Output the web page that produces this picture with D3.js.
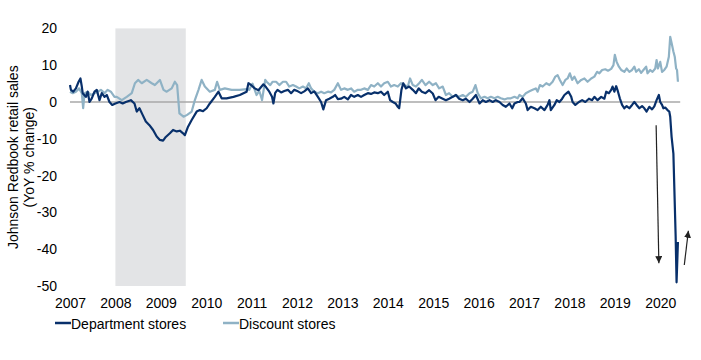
<!DOCTYPE html>
<html><head><meta charset="utf-8">
<script src="https://cdn.jsdelivr.net/npm/d3@7"></script>
<style>
body{margin:0;background:#fff}
svg{display:block}
text{font-family:"Liberation Sans",Arial,sans-serif;fill:#000}
</style>
</head><body>
<svg id="chart" width="701" height="360"></svg>
<script>
// ---------- data ----------
const yearTicks = [2007,2008,2009,2010,2011,2012,2013,2014,2015,2016,2017,2018,2019,2020];
const valueTicks = [20,10,0,-10,-20,-30,-40,-50];
const recessionStart = 2008.0;
const recessionEnd = 2009.55;
const seriesNames = ["Department stores","Discount stores"];
const yTitle = ["Johnson Redbook retail sales","(YoY % change)"];

const deptDates = [2007.00,2007.02,2007.07,2007.13,2007.19,2007.23,2007.26,2007.28,2007.35,2007.39,2007.43,2007.48,2007.54,2007.59,2007.65,2007.70,2007.76,2007.81,2007.87,2007.93,
2008.00,2008.09,2008.16,2008.23,2008.34,2008.42,2008.47,2008.53,2008.60,2008.67,2008.75,2008.83,2008.91,2008.98,
2009.05,2009.11,2009.20,2009.27,2009.35,2009.42,2009.49,2009.53,2009.60,2009.68,2009.79,2009.86,2009.93,
2010.01,2010.08,2010.19,2010.27,2010.34,2010.45,2010.60,2010.74,2010.89,2010.93,
2011.00,2011.07,2011.15,2011.26,2011.32,2011.39,2011.45,2011.48,2011.52,2011.57,2011.65,2011.72,2011.80,2011.87,2011.94,
2012.02,2012.09,2012.16,2012.24,2012.31,2012.38,2012.46,2012.53,2012.58,2012.64,2012.71,2012.79,2012.84,2012.90,2012.97,
2013.04,2013.12,2013.19,2013.26,2013.34,2013.41,2013.48,2013.56,2013.63,2013.70,2013.78,2013.85,2013.92,
2014.00,2014.05,2014.11,2014.17,2014.22,2014.25,2014.30,2014.34,2014.40,2014.47,2014.55,2014.62,2014.68,2014.75,2014.83,2014.91,2014.99,
2015.05,2015.12,2015.21,2015.28,2015.35,2015.43,2015.50,2015.57,2015.65,2015.72,2015.80,2015.87,2015.94,
2016.02,2016.09,2016.16,2016.24,2016.31,2016.38,2016.46,2016.53,2016.60,2016.68,2016.74,2016.79,2016.86,2016.90,2016.97,
2017.04,2017.08,2017.15,2017.23,2017.30,2017.37,2017.45,2017.52,2017.56,2017.59,2017.67,2017.72,2017.78,2017.84,2017.89,2017.94,2017.98,
2018.04,2018.07,2018.13,2018.21,2018.28,2018.35,2018.43,2018.50,2018.55,2018.62,2018.70,2018.77,2018.81,2018.87,2018.92,2018.95,2018.99,
2019.03,2019.07,2019.11,2019.16,2019.21,2019.26,2019.32,2019.38,2019.43,2019.48,2019.54,2019.60,2019.65,2019.70,2019.76,2019.82,2019.87,2019.92,2019.97,
2020.00,2020.04,2020.07,2020.11,2020.16,2020.20,2020.22,2020.25,2020.29,2020.31,2020.34,2020.36,2020.39];
const deptValues = [4.6,3.3,2.8,3.7,5.5,6.4,4.2,2.4,1.4,2.8,0,1.0,2.8,3.3,0.5,2.4,1.4,1.9,0,-0.8,
-0.4,0,-0.4,0,0.5,-0.4,-2.6,-1.7,-3.5,-5.3,-6.3,-7.6,-9.4,-10.3,
-10.5,-9.5,-8.5,-7.6,-8.0,-7.8,-8.5,-9.0,-6.7,-4.9,-2.6,-2.2,-2.5,
-1.7,-0.4,1.4,2.8,1.0,1.0,1.4,1.9,2.8,5.1,
4.5,3.7,3.2,4.8,4.0,2.8,1.4,-0.4,2.5,3.3,2.6,3.0,3.3,2.4,3.3,
2.9,2.4,2.9,3.7,2.4,2.9,1.4,0,-2.0,0.5,0.9,1.4,1.9,0.8,0.9,
1.4,0.7,1.9,1.4,1.9,1.4,1.9,2.4,2.2,2.6,2.4,2.8,1.9,
2.8,0.5,0,-0.4,-1.3,-1.7,3.3,5.1,3.7,4.2,3.3,2.4,3.7,2.8,2.4,3.2,2.3,
0.5,1.4,0.9,0.5,0.9,1.4,1.9,0.9,0.5,0.9,0,0.9,1.9,
-0.4,0.5,0,0.5,0,0.5,0,-0.8,-1.3,-0.4,-1.7,-0.4,0,0,1.0,
-0.4,-2.2,-1.3,-1.7,-2.2,-1.3,-2.2,-0.8,0.5,-2.2,-0.8,0.5,0,0.9,1.9,2.4,2.8,
1.4,0,-0.8,0,0.5,0,0.9,0.5,1.4,0.5,1.4,0.9,2.8,2.4,3.3,4.2,2.8,
4.3,2.8,1.0,-0.8,-1.7,-1.1,-1.7,-0.8,0,-0.8,-1.7,-1.1,-1.7,-2.6,-1.3,-2.0,-1.2,0.5,1.9,
0,-0.8,-1.7,-1.5,-2.2,-2.6,-4.0,-9.4,-14,-23,-36.6,-49,-38];

const discDates = [2007.00,2007.06,2007.13,2007.20,2007.26,2007.29,2007.32,2007.39,2007.46,2007.54,2007.61,2007.68,2007.76,2007.83,2007.90,2007.98,
2008.03,2008.14,2008.25,2008.36,2008.43,2008.50,2008.58,2008.69,2008.80,2008.87,2008.98,
2009.06,2009.13,2009.24,2009.31,2009.36,2009.41,2009.50,2009.58,2009.68,2009.75,2009.83,2009.90,2009.97,
2010.08,2010.19,2010.24,2010.30,2010.41,2010.56,2010.74,2010.89,2010.95,
2011.00,2011.02,2011.11,2011.17,2011.22,2011.23,2011.30,2011.33,2011.41,2011.46,2011.54,2011.61,2011.69,2011.76,2011.83,2011.91,2011.98,
2012.05,2012.13,2012.20,2012.26,2012.31,2012.38,2012.46,2012.53,2012.60,2012.68,2012.75,2012.82,2012.90,2012.97,
2013.04,2013.12,2013.19,2013.26,2013.34,2013.41,2013.48,2013.56,2013.63,2013.70,2013.78,2013.85,2013.92,
2014.00,2014.07,2014.14,2014.22,2014.29,2014.36,2014.44,2014.49,2014.55,2014.62,2014.69,2014.75,2014.83,2014.91,2014.99,
2015.06,2015.13,2015.21,2015.28,2015.35,2015.43,2015.50,2015.57,2015.65,2015.72,2015.80,2015.87,2015.93,2015.98,
2016.05,2016.13,2016.20,2016.27,2016.35,2016.42,2016.49,2016.57,2016.64,2016.71,2016.79,2016.86,2016.90,2016.97,
2017.04,2017.12,2017.19,2017.26,2017.30,2017.35,2017.41,2017.49,2017.56,2017.63,2017.69,2017.74,2017.79,2017.85,2017.91,2017.96,
2018.01,2018.06,2018.11,2018.18,2018.26,2018.33,2018.40,2018.48,2018.55,2018.61,2018.66,2018.72,2018.79,2018.85,2018.92,2018.97,
2019.00,2019.04,2019.09,2019.14,2019.21,2019.26,2019.32,2019.38,2019.43,2019.47,2019.53,2019.58,2019.63,2019.69,2019.72,2019.78,2019.83,2019.89,2019.92,2019.95,
2020.00,2020.04,2020.09,2020.14,2020.19,2020.22,2020.26,2020.29,2020.32,2020.35,2020.37,2020.39];
const discValues = [2.8,2.4,2.8,3.7,2.4,-1.7,2.4,2.8,1.9,2.4,2.8,3.3,2.4,3.3,2.8,1.4,
1.4,0.5,1.4,2.4,5.1,6.0,5.1,6.0,5.1,4.6,6.0,
3.3,2.8,3.7,5.5,4.6,-3.1,-4.0,-3.5,-2.6,0.5,3.3,6.0,4.2,
2.8,3.3,5.5,3.3,3.7,3.3,3.3,3.5,3.3,
4.6,5.0,1.9,3.0,1.0,0.5,6.0,5.5,4.6,5.5,5.5,4.6,5.5,5.5,4.2,4.6,4.2,
3.7,4.2,3.7,5.1,3.7,2.8,2.4,2.8,2.4,2.8,2.6,3.3,5.1,3.3,
3.7,3.3,3.7,2.8,3.3,3.3,3.7,3.3,4.6,4.2,5.1,4.2,5.1,
5.5,4.2,4.6,4.2,5.1,4.6,4.2,6.4,4.6,4.2,5.1,6.0,4.6,5.5,4.6,
5.1,3.7,4.2,1.9,2.4,1.4,1.9,1.4,1.9,1.4,2.4,2.8,4.6,2.4,
1.0,1.4,1.0,1.4,1.0,1.4,1.0,0.7,1.0,1.0,1.4,1.0,1.9,1.4,
2.4,2.9,3.3,3.7,2.8,4.6,4.2,5.1,4.6,5.5,6.9,7.3,6.0,4.6,6.0,6.4,
7.8,6.0,6.9,5.1,6.0,6.4,5.5,6.4,6.9,8.2,7.8,8.7,8.9,8.5,9.0,10.0,
12.8,10.9,9.6,8.7,8.2,9.1,8.2,8.7,9.6,8.2,8.9,7.9,8.7,9.6,7.8,8.7,8.2,9.1,11.4,9.1,
10.9,8.2,8.7,9.6,12.3,17.7,15.5,13.7,12.3,9.1,8.7,5.5];

// annotation arrows: [x0, y0, x1, y1] in data units (x1,y1 = arrow tip)
const arrowDown = [2019.91, -6.3, 2019.97, -43.8];
const arrowUp = [2020.53, -44.3, 2020.62, -35.0];

// ---------- chart ----------
const svg = d3.select("#chart");
const x = d3.scaleLinear().domain([2007, 2020.44]).range([70, 680.2]);
const y = d3.scaleLinear().domain([-50, 20]).range([286, 28.4]);

const colDept = "#08306b";
const colDisc = "#8fb2c5";

// recession shading
svg.append("rect")
  .attr("x", x(recessionStart)).attr("y", y(20))
  .attr("width", x(recessionEnd) - x(recessionStart))
  .attr("height", y(-50) - y(20))
  .attr("fill", "#e3e4e6");

// zero line
svg.append("line")
  .attr("x1", x(2007)).attr("x2", x.range()[1])
  .attr("y1", y(0)).attr("y2", y(0))
  .attr("stroke", "#a8a8a8").attr("stroke-width", 1.5);

// y axis
const yAxis = d3.axisLeft(y).tickValues(valueTicks).tickSize(0).tickPadding(0)
  .tickFormat(d => String(d));
const gy = svg.append("g").attr("transform", "translate(57,0)").call(yAxis);
gy.select(".domain").remove();
gy.selectAll("text").style("font-size", "14px").style("font-family", '"Liberation Sans",Arial,sans-serif').attr("fill", "#000");

// x axis
const xAxis = d3.axisBottom(x).tickValues(yearTicks).tickSize(0).tickPadding(0)
  .tickFormat(d => String(d));
const gx = svg.append("g").attr("transform", "translate(0,298)").call(xAxis);
gx.select(".domain").remove();
gx.selectAll("text").style("font-size", "14px").style("font-family", '"Liberation Sans",Arial,sans-serif').attr("fill", "#000");

// y title
const yt = svg.append("text")
  .attr("transform", `translate(18,${(y(20)+y(-50))/2}) rotate(-90)`)
  .attr("text-anchor", "middle").style("font-size", "14px");
yt.append("tspan").attr("x", 0).attr("dy", "0").text(yTitle[0]);
yt.append("tspan").attr("x", 0).attr("dy", "16").text(yTitle[1]);

// lines
const line = d3.line().x(d => x(d[0])).y(d => y(d[1])).curve(d3.curveLinear);
const discData = discDates.map((d, i) => [d, discValues[i]]);
const deptData = deptDates.map((d, i) => [d, deptValues[i]]);
svg.append("path").datum(discData).attr("d", line)
  .attr("fill", "none").attr("stroke", colDisc).attr("stroke-width", 2.2).attr("stroke-linejoin", "round");
svg.append("path").datum(deptData).attr("d", line)
  .attr("fill", "none").attr("stroke", colDept).attr("stroke-width", 2.2).attr("stroke-linejoin", "round");

// arrows
const defs = svg.append("defs");
defs.append("marker").attr("id", "ah").attr("viewBox", "0 0 10 10")
  .attr("refX", 10).attr("refY", 5).attr("markerWidth", 7).attr("markerHeight", 7)
  .attr("markerUnits", "userSpaceOnUse").attr("orient", "auto")
  .append("path").attr("d", "M0,0 L10,5 L0,10 Z").attr("fill", "#222");
[arrowDown, arrowUp].forEach(a => {
  svg.append("line")
    .attr("x1", x(a[0])).attr("y1", y(a[1]))
    .attr("x2", x(a[2])).attr("y2", y(a[3]))
    .attr("stroke", "#222").attr("stroke-width", 1.2)
    .attr("marker-end", "url(#ah)");
});

// legend
const legendItems = [
  {name: seriesNames[0], color: colDept, x: 55},
  {name: seriesNames[1], color: colDisc, x: 223}
];
const lg = svg.append("g");
legendItems.forEach(it => {
  lg.append("line").attr("x1", it.x).attr("x2", it.x + 16)
    .attr("y1", 323).attr("y2", 323).attr("stroke", it.color).attr("stroke-width", 2.5);
  lg.append("text").attr("x", it.x + 16).attr("y", 329)
    .style("font-size", "14px").text(it.name);
});
</script>
</body></html>
